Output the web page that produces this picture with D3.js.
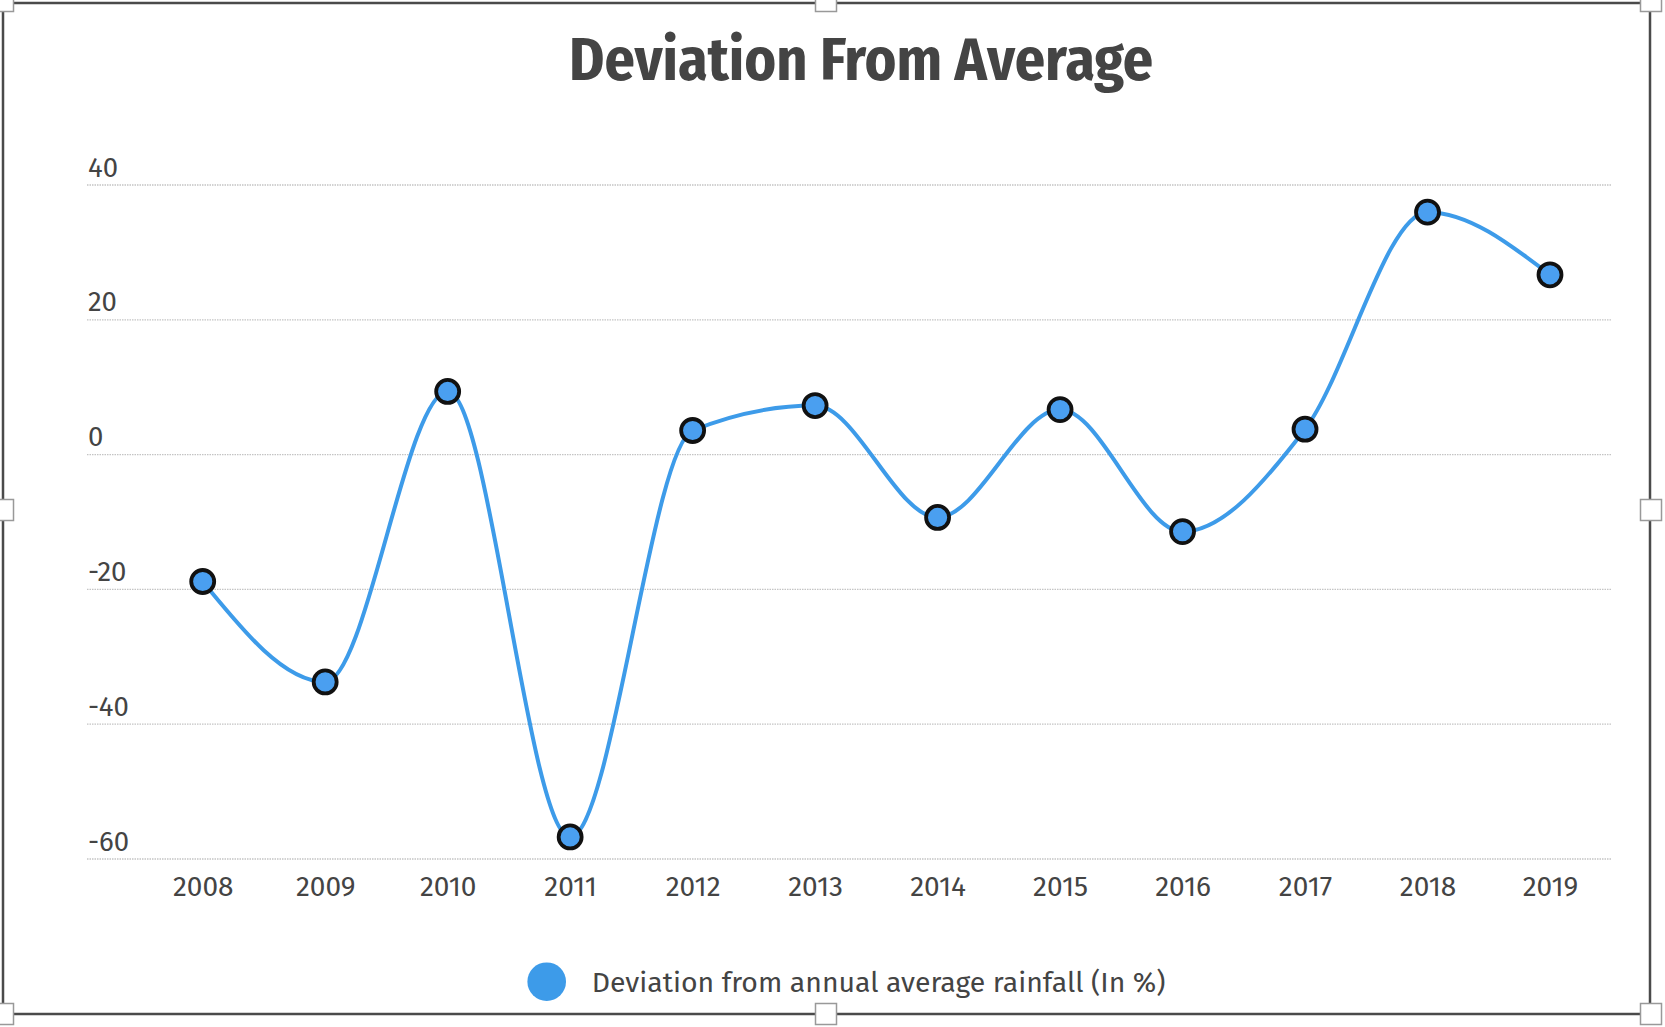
<!DOCTYPE html>
<html>
<head>
<meta charset="utf-8">
<script src="https://cdn.jsdelivr.net/npm/d3@7"></script>
<style>
    html, body { margin: 0; padding: 0; background: #fff; }
    svg { display: block; }
    text { font-family: "Fira Sans", "Open Sans", sans-serif; fill: #444; }
</style>
</head>
<body>
<div id="chart"></div>
<script>
"use strict";

const years = ["2008", "2009", "2010", "2011", "2012", "2013", "2014", "2015", "2016", "2017", "2018", "2019"];
const deviation = [-18.9, -33.8, 9.3, -56.8, 3.5, 7.2, -9.4, 6.6, -11.5, 3.7, 35.9, 26.6];
const yTicks = [-60, -40, -20, 0, 20, 40];
const titleText = "Deviation From Average";
const seriesName = "Deviation from annual average rainfall (In %)";

function drawChart() {
    const width = 1665;
    const height = 1027;
    const blue = "#3d9be9";

    const svg = d3.select("#chart").append("svg")
        .attr("width", width)
        .attr("height", height);

    const xScale = d3.scalePoint()
        .domain(years)
        .range([202.7, 1550]);
    const yScale = d3.scaleLinear()
        .domain([-60, 40])
        .range([858.5, 184.5]);

    // grid lines with labels sitting above them
    const yAxis = d3.axisLeft(yScale)
        .tickValues(yTicks)
        .tickSize(-(1611 - 87))
        .tickFormat(function (d) { return String(d); });
    const gy = svg.append("g")
        .attr("transform", "translate(87,0)")
        .call(yAxis);
    gy.select(".domain").remove();
    gy.selectAll(".tick line")
        .attr("stroke", "#c4c4c4")
        .attr("stroke-width", 1.3)
        .attr("stroke-dasharray", "1.5,1");
    gy.selectAll(".tick text")
        .attr("x", 1)
        .attr("dy", -8.5)
        .attr("text-anchor", "start")
        .style("font-size", "27.5px")
        .style("fill", "#444");

    const xAxis = d3.axisBottom(xScale).tickSize(0);
    const gx = svg.append("g")
        .attr("transform", "translate(0,859)")
        .call(xAxis);
    gx.select(".domain").remove();
    gx.selectAll(".tick text")
        .attr("y", 37)
        .attr("dy", 0)
        .style("font-size", "28px")
        .style("fill", "#444");

    const data = years.map(function (y, i) {
        return {year: y, value: deviation[i]};
    });

    const line = d3.line()
        .x(function (d) { return xScale(d.year); })
        .y(function (d) { return yScale(d.value); })
        .curve(d3.curveMonotoneX);

    svg.append("path")
        .datum(data)
        .attr("fill", "none")
        .attr("stroke", blue)
        .attr("stroke-width", 4)
        .attr("d", line);

    svg.append("g").selectAll("circle")
        .data(data)
        .enter().append("circle")
        .attr("cx", function (d) { return xScale(d.year); })
        .attr("cy", function (d) { return yScale(d.value); })
        .attr("r", 11.5)
        .attr("fill", "#4a9ff0")
        .attr("stroke", "#111")
        .attr("stroke-width", 3.8);

    svg.append("text")
        .attr("x", 861)
        .attr("y", 80)
        .attr("text-anchor", "middle")
        .attr("textLength", 584)
        .attr("lengthAdjust", "spacingAndGlyphs")
        .style("font-family", "'Fira Sans Condensed', Roboto, 'Open Sans', sans-serif")
        .style("font-weight", "700")
        .style("font-size", "60px")
        .style("fill", "#444")
        .text(titleText);

    // legend
    const legend = svg.append("g");
    legend.append("circle")
        .attr("cx", 546.7)
        .attr("cy", 981.7)
        .attr("r", 19.3)
        .attr("fill", blue);
    legend.append("text")
        .attr("x", 591.7)
        .attr("y", 991.7)
        .style("font-size", "28.4px")
        .style("fill", "#444")
        .text(seriesName);

    // outer frame with selection handles
    svg.append("rect")
        .attr("x", 3)
        .attr("y", 3)
        .attr("width", 1647)
        .attr("height", 1011)
        .attr("fill", "none")
        .attr("stroke", "#4a4a4a")
        .attr("stroke-width", 2.5);

    const handles = [[3, 1], [826, 1], [1651, 1], [3, 510], [1651, 510], [3, 1014], [826, 1014], [1651, 1014]];
    svg.append("g").selectAll("rect")
        .data(handles)
        .enter().append("rect")
        .attr("x", function (d) { return d[0] - 10.5; })
        .attr("y", function (d) { return d[1] - 10.5; })
        .attr("width", 21)
        .attr("height", 21)
        .attr("fill", "#fff")
        .attr("stroke", "#999")
        .attr("stroke-width", 1.5);
}

drawChart();
</script>
</body>
</html>
